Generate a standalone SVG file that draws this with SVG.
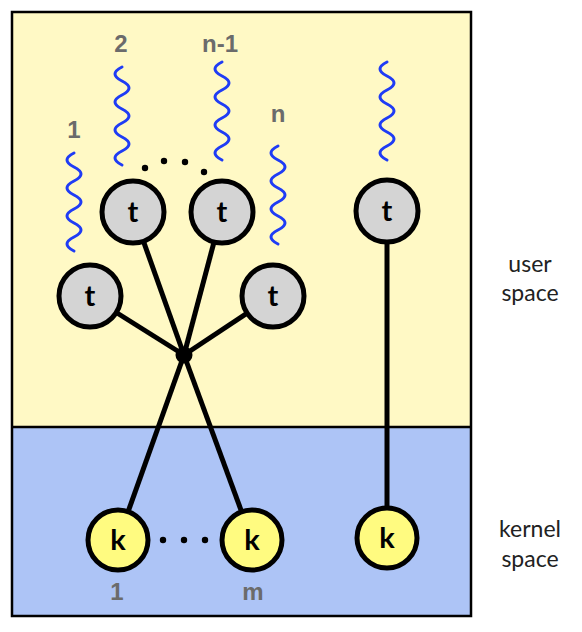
<svg xmlns="http://www.w3.org/2000/svg" xmlns:xlink="http://www.w3.org/1999/xlink" width="582" height="632" viewBox="0 0 582 632">
<style>
.t{fill:#d4d4d4;stroke:#000;stroke-width:5}
.k{fill:#fffb80;stroke:#000;stroke-width:5}
.lt{font-family:Lato,"Open Sans",sans-serif;font-weight:bold;font-size:29px;fill:#000;text-anchor:middle}
.num{font-family:"Liberation Sans",Arial,sans-serif;font-weight:bold;font-size:24px;fill:#6b6b6b;text-anchor:middle}
.side{font-family:Lato,"Open Sans",sans-serif;font-size:23px;fill:#222;text-anchor:middle}
.edge{stroke:#000;stroke-width:5;fill:none}
.sq{fill:none;stroke:#1f3cf5;stroke-width:3;stroke-linecap:round}
</style>
<defs>
<path id="wave" class="sq" d="M0,0 q-14,7 0,14 t0,14 t0,14 t0,14 t0,14 t0,14 t0,14"/>
</defs>
<g id="background">
<rect x="12" y="12" width="459" height="415" fill="#fff9c5"/>
<rect x="12" y="427" width="459" height="189" fill="#adc4f6"/>
<line x1="12" y1="427" x2="471" y2="427" stroke="#000" stroke-width="2.5"/>
<rect x="12" y="12" width="459" height="604" fill="none" stroke="#000" stroke-width="2.5"/>
</g>
<g id="connectors">
<line class="edge" x1="133" y1="212" x2="184" y2="355"/>
<line class="edge" x1="222" y1="212" x2="184" y2="355"/>
<line class="edge" x1="90" y1="296" x2="184" y2="355"/>
<line class="edge" x1="273" y1="296" x2="184" y2="355"/>
<line class="edge" x1="184" y1="355" x2="118" y2="540"/>
<line class="edge" x1="184" y1="355" x2="252" y2="540"/>
<line class="edge" x1="387" y1="211" x2="387" y2="538"/>
</g>
<g id="hub"><circle cx="184" cy="355" r="8.5" fill="#000"/></g>
<g id="waves">
<use xlink:href="#wave" x="74" y="153"/>
<use xlink:href="#wave" x="122" y="67"/>
<use xlink:href="#wave" x="222" y="62"/>
<use xlink:href="#wave" x="278" y="146"/>
<use xlink:href="#wave" x="387" y="62"/>
</g>
<g id="labels">
<text class="num" x="74" y="138">1</text>
<text class="num" x="121" y="52">2</text>
<text class="num" x="220" y="52">n-1</text>
<text class="num" x="278" y="122">n</text>
<text class="num" x="117" y="600">1</text>
<text class="num" x="253" y="600">m</text>
</g>
<g id="dots" fill="#000">
<circle cx="145" cy="168" r="3.2"/>
<circle cx="164" cy="161" r="3.2"/>
<circle cx="185" cy="162" r="3.2"/>
<circle cx="204" cy="172" r="3.2"/>
<circle cx="163" cy="540" r="3.2"/>
<circle cx="184" cy="540" r="3.2"/>
<circle cx="205" cy="540" r="3.2"/>
</g>
<g id="t2"><circle class="t" cx="133" cy="212" r="31"/><text class="lt" x="133" y="222">t</text></g>
<g id="tn1"><circle class="t" cx="222" cy="212" r="31"/><text class="lt" x="222" y="222">t</text></g>
<g id="t1"><circle class="t" cx="90" cy="296" r="31"/><text class="lt" x="90" y="306">t</text></g>
<g id="tn"><circle class="t" cx="273" cy="296" r="31"/><text class="lt" x="273" y="306">t</text></g>
<g id="tr"><circle class="t" cx="387" cy="211" r="31"/><text class="lt" x="387" y="221">t</text></g>
<g id="k1"><circle class="k" cx="118" cy="540" r="30"/><text class="lt" x="118" y="550">k</text></g>
<g id="km"><circle class="k" cx="252" cy="540" r="30"/><text class="lt" x="252" y="550">k</text></g>
<g id="kr"><circle class="k" cx="387" cy="538" r="30"/><text class="lt" x="387" y="548">k</text></g>
<g id="side-labels">
<text class="side" x="530" y="272">user</text>
<text class="side" x="530" y="301">space</text>
<text class="side" x="530" y="537">kernel</text>
<text class="side" x="530" y="567">space</text>
</g>
</svg>
